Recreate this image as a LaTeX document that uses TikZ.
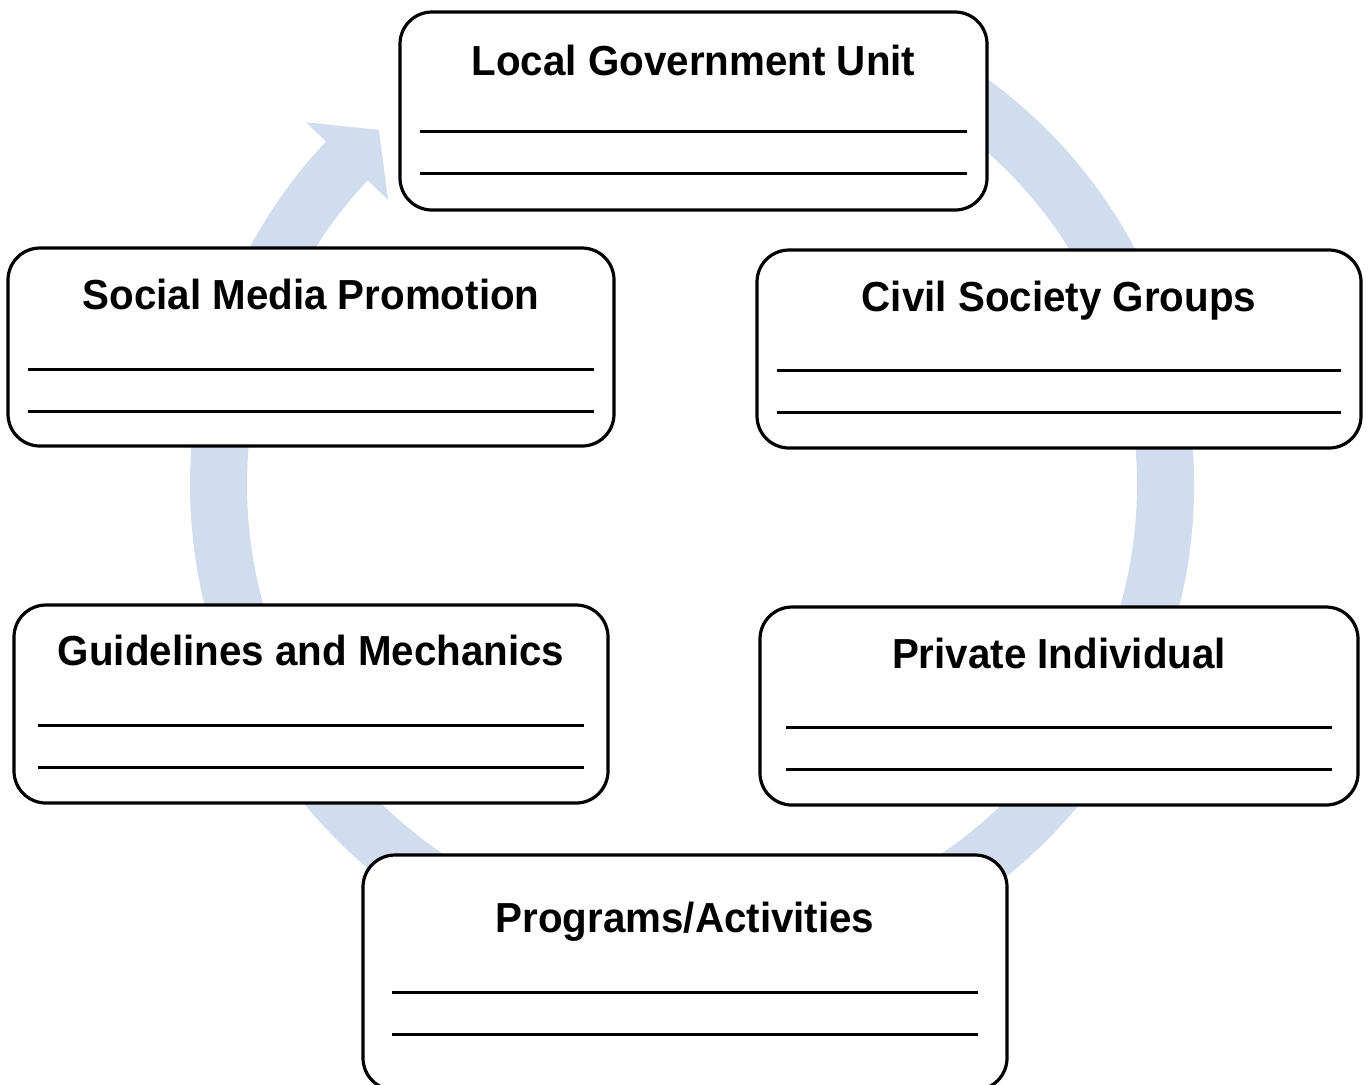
\documentclass[tikz,border=0pt]{standalone}
\usepackage{fontspec}
\setmainfont{Liberation Sans}
\newfontfamily\titlefont[FakeStretch=0.96]{Liberation Sans}
\usetikzlibrary{calc,fit}
\definecolor{ringblue}{RGB}{209,221,238}
\newcommand\cardbox[9]{%
  \node[card, fit={(#2,#3) (#4,#5)}] (#1) {};
  \node[cardtitle] (#1-title) at ($(#1.north)+(0,#7)$) {#9};
  \draw[blank] ($(#1.north west)+(#6,#8)$) -- ($(#1.north east)+(-#6,#8)$);
  \draw[blank] ($(#1.north west)+(#6,#8+42)$) -- ($(#1.north east)+(-#6,#8+42)$);
}
\begin{document}
\begin{tikzpicture}[x=0.5pt,y=-0.5pt,
  card/.style={draw=black, line width=1.6pt, rounded corners=16pt, fill=white, inner sep=0pt},
  cardtitle/.style={font=\titlefont\fontsize{21}{25}\bfseries\selectfont, anchor=base, inner sep=0pt},
  blank/.style={line width=1.15pt, black}]
\useasboundingbox (0,0) rectangle (1368,1084);
\coordinate (C) at (692,485);
\fill[ringblue] ($(C)+(-62:502)$) arc[start angle=-62,end angle=223.2,radius=502]
  -- ($(C)+(223.2:530)$) -- ($(C)+(228.6:473.5)$) -- ($(C)+(223.2:417)$)
  -- ($(C)+(223.2:445)$) arc[start angle=223.2,end angle=-62,radius=445] -- cycle;
\cardbox{lgu}{400}{12}{987}{210}{22}{65}{121}{Local Government Unit}
\cardbox{smp}{8}{248}{614}{446}{22}{63}{123}{Social Media Promotion}
\cardbox{csg}{757}{250}{1361}{448}{22}{63}{122}{Civil Society Groups}
\cardbox{gm}{14}{605}{608}{803}{26}{62}{122}{Guidelines and Mechanics}
\cardbox{pi}{760}{607}{1358}{805}{28}{63}{122}{Private Individual}
\cardbox{pa}{363}{855}{1007}{1090}{31}{79}{139}{Programs/Activities}
\end{tikzpicture}
\end{document}
